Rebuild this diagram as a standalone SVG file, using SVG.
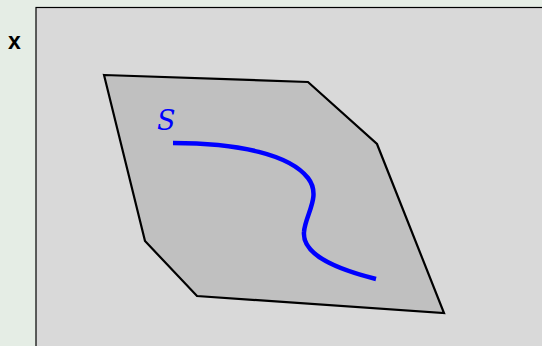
<svg xmlns="http://www.w3.org/2000/svg" width="542" height="346" viewBox="0 0 542 346">
<style>
.lbl{font-family:"Liberation Sans",Arial,sans-serif;font-weight:bold;font-size:23px;fill:#000}
.s{font-family:"DejaVu Serif","Liberation Serif",serif;font-style:italic;font-size:27px;fill:#0000ff}
</style>
<rect x="0" y="0" width="542" height="346" fill="#e5ede5"/>
<g id="frame"><rect x="36" y="7.5" width="520" height="350" fill="#d9d9d9" stroke="#000" stroke-width="1.2"/></g>
<text class="lbl" x="8" y="48.5">x</text>
<g id="surface">
<polygon points="104,75 308,82 377,144 444,313 197,296 145,241" fill="#c0c0c0" stroke="#000" stroke-width="2.2" stroke-linejoin="miter"/>
</g>
<g id="curve">
<path d="M173,143 C240,143 290,155 308,178 C322,196 305,215 304,232 C302,256 340,270 376,279" fill="none" stroke="#0000ff" stroke-width="4.5"/>
<text class="s" x="157" y="130">S</text>
</g>
</svg>
